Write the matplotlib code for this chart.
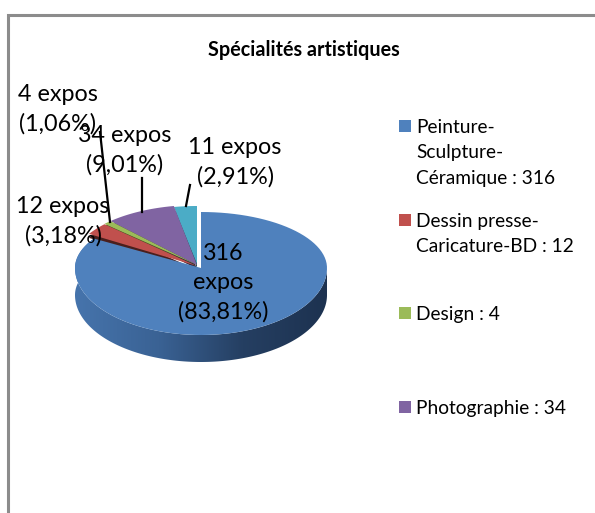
import numpy as np
import matplotlib
matplotlib.use('Agg')
import matplotlib.pyplot as plt
from matplotlib.colors import LinearSegmentedColormap
from matplotlib.patches import Polygon, Rectangle

# data
title = "Spécialités artistiques"
values = [316, 12, 4, 34, 11]
pct_labels = ["83,81", "3,18", "1,06", "9,01", "2,91"]
legend_names = ["Peinture-\nSculpture-\nCéramique : 316",
                "Dessin presse-\nCaricature-BD : 12",
                "Design : 4",
                "Photographie : 34"]

colors = ['#4F81BD', '#C0504D', '#9BBB59', '#8064A2', '#4BACC6']
walls = ['#1F3552', '#4A1F1D', '#3E4B23', '#33283F', '#1E4550']

# pie geometry, in pixels of the picture
centers = [(201, 268), (197, 266), (197, 265), (197, 265), (197, 264)]
radii_x = [126, 127, 127, 127, 127]
radii_up = [56, 61, 60, 60, 58]
wall_drop = [0, 4, 2, 4, 4]
RY_DOWN, DEPTH = 67, 27


def rim(cx, cy, rx, ry_up, deg):
    # deg is clockwise from 12 o'clock, the back half of the ellipse is flatter
    a = np.radians(deg)
    s, c = np.sin(a), np.cos(a)
    y = np.where(c > 0, cy - ry_up * c, cy - RY_DOWN * c)
    return cx + rx * s, y


def main():
    plt.rcParams['font.family'] = ['Lato', 'DejaVu Sans']
    fig = plt.figure(figsize=(5.95, 5.13), dpi=100)
    ax = fig.add_axes([0, 0, 1, 1])
    ax.set_xlim(0, 595)
    ax.set_ylim(513, 0)
    ax.axis('off')

    # grey frame, only top and left show
    ax.plot([8, 8, 595], [513, 15, 15], color='#8C8C8C', lw=2.2, solid_joinstyle='miter')

    # slice angles from the values
    edges = np.concatenate([[0], np.cumsum(values)]) / sum(values) * 360

    # small slices back to front, then the big one
    for i in [4, 3, 2, 1, 0]:
        cx, cy = centers[i]
        t = np.linspace(edges[i], edges[i + 1], 100)
        x, y = rim(cx, cy, radii_x[i], radii_up[i], t)
        top = np.column_stack([np.r_[cx, x], np.r_[cy, y]])
        if i > 0:
            low = top + [0, wall_drop[i]]
            ax.add_patch(Polygon(low, color=walls[i], lw=0, zorder=2))
        ax.add_patch(Polygon(top, color=colors[i], lw=0, zorder=3))

    # outer wall of the big slice with its gradient
    cx, cy = centers[0]
    rx = radii_x[0]
    grad = LinearSegmentedColormap.from_list('side', ['#4674AC', '#3A6294', '#253F62', '#1D3250'])
    t = np.linspace(90, edges[1], 260)
    x, y = rim(cx, cy, rx, radii_up[0], t)
    wall = Polygon(np.column_stack([np.r_[x, x[::-1]], np.r_[y, y[::-1] + DEPTH]]),
                   transform=ax.transData, facecolor='none', lw=0)
    ax.add_patch(wall)
    img = ax.imshow(np.linspace(0, 1, 256).reshape(1, -1), cmap=grad, aspect='auto',
                    extent=[cx - rx, cx + rx, cy + RY_DOWN + DEPTH, cy - radii_up[0]], zorder=1)
    img.set_clip_path(wall)
    ax.set_xlim(0, 595)
    ax.set_ylim(513, 0)

    # data labels
    lab = dict(ha='center', va='center', fontsize=16.8, color='black', linespacing=1.47, zorder=6)
    ax.text(223, 283, f"{values[0]}\nexpos\n({pct_labels[0]}%)", **lab)
    ax.text(63, 221, f"{values[1]} expos\n({pct_labels[1]}%)", **lab)
    ax.text(58, 109, f"{values[2]} expos\n({pct_labels[2]}%)", **lab)
    ax.text(125, 150, f"{values[3]} expos\n({pct_labels[3]}%)", **lab)
    ax.text(235, 162, f"{values[4]} expos\n({pct_labels[4]}%)", **lab)

    # leader lines
    for xs, ys in [([100, 110], [132, 222]), ([142, 142], [178, 212]), ([190, 186], [185, 206])]:
        ax.plot(xs, ys, color='black', lw=1.6, zorder=5)

    # title
    ax.text(304, 50, title, ha='center', va='center', fontsize=14.2, fontweight='bold')

    # legend, the fifth entry does not fit in the picture
    for name, col, ytop in zip(legend_names, colors, [120, 214, 307, 401]):
        ax.add_patch(Rectangle((399, ytop), 12, 12, color=col, lw=0))
        ax.text(416, ytop - 1, name, ha='left', va='top', fontsize=13.8, linespacing=1.6)

    plt.savefig('out.png', dpi=100)


if __name__ == '__main__':
    main()
